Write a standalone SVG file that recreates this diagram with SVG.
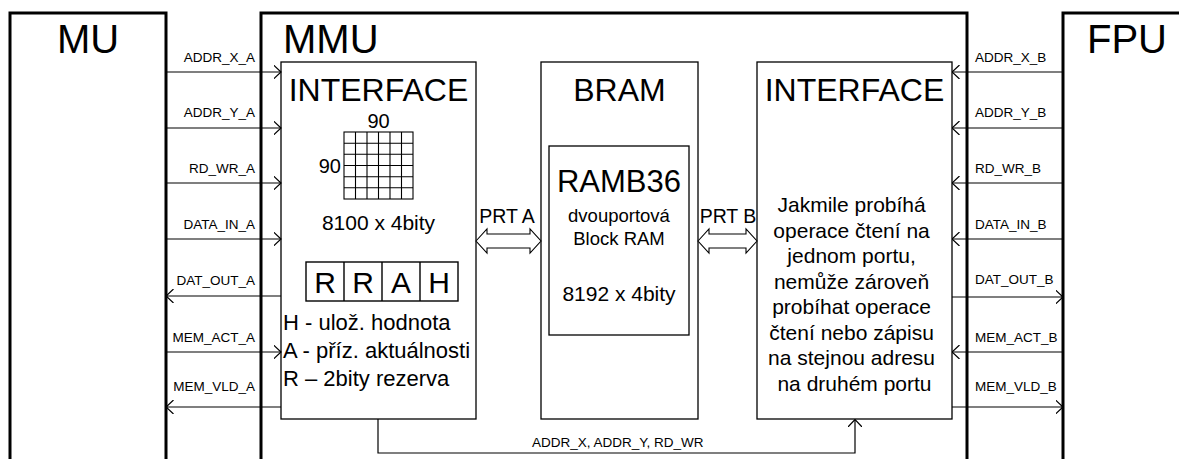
<svg xmlns="http://www.w3.org/2000/svg" width="1179" height="459" viewBox="0 0 1179 459">
<style>
text{font-family:"Liberation Sans",Arial,sans-serif;fill:#000}
.outer{fill:none;stroke:#000;stroke-width:3}
.box{fill:#fff;stroke:#000;stroke-width:1.3}
.sig{fill:none;stroke:#000;stroke-width:1.2}
.lbl{font-size:13.5px}
.big{font-size:40px}
.title{font-size:32px}
.t20{font-size:20px}
.t21{font-size:21px}
.t22{font-size:22px}
.dbl{fill:#fff;stroke:#000;stroke-width:1.1}
.grid{fill:none;stroke:#000;stroke-width:1.1}
</style>
<defs>
<marker id="arr" viewBox="0 0 8 14" refX="7.5" refY="7" markerWidth="8" markerHeight="14" markerUnits="userSpaceOnUse" orient="auto">
<path d="M0,0 L7.5,7 L0,14" fill="none" stroke="#000" stroke-width="1.2"/>
</marker>
</defs>

<g id="MU">
<path class="outer" d="M10,462 V13 H166 V462"/>
<text class="big" x="88" y="53" text-anchor="middle">MU</text>
</g>

<g id="MMU">
<path class="outer" d="M261,462 V13 H967 V462"/>
<text class="big" x="283" y="53">MMU</text>
</g>

<g id="FPU">
<path class="outer" d="M1063,462 V13 H1182"/>
<text class="big" x="1087" y="53">FPU</text>
</g>

<g id="interfaceA">
<rect class="box" x="281" y="62" width="195" height="357"/>
<text class="title" x="378.5" y="101" text-anchor="middle">INTERFACE</text>
<text class="t20" x="378.5" y="128" text-anchor="middle">90</text>
<text class="t20" x="341" y="173" text-anchor="end">90</text>
<g class="grid">
<rect x="344" y="132" width="69" height="67"/>
<path d="M355.5,132V199M367,132V199M378.5,132V199M390,132V199M401.5,132V199M344,143.2H413M344,154.3H413M344,165.5H413M344,176.7H413M344,187.8H413"/>
</g>
<text x="378.5" y="230" font-size="21" text-anchor="middle">8100 x 4bity</text>
<g class="grid">
<rect x="306" y="262" width="152" height="39" stroke-width="1.4"/>
<path d="M344,262V301M382,262V301M420,262V301" stroke-width="1.4"/>
</g>
<text x="325" y="293" font-size="30" text-anchor="middle">R</text>
<text x="363" y="293" font-size="30" text-anchor="middle">R</text>
<text x="401" y="293" font-size="30" text-anchor="middle">A</text>
<text x="439" y="293" font-size="30" text-anchor="middle">H</text>
<text class="t22" x="283" y="330">H - ulož. hodnota</text>
<text class="t22" x="283" y="358">A - příz. aktuálnosti</text>
<text class="t22" x="283" y="386">R – 2bity rezerva</text>
</g>

<g id="BRAM">
<rect class="box" x="541" y="62" width="157" height="357"/>
<text class="title" x="619.5" y="101" text-anchor="middle">BRAM</text>
</g>

<g id="RAMB36">
<rect class="box" x="549" y="146" width="140" height="189"/>
<text x="619" y="192" font-size="31" text-anchor="middle">RAMB36</text>
<text x="619" y="222" font-size="18.5" text-anchor="middle">dvouportová</text>
<text x="619" y="245" font-size="18.5" text-anchor="middle">Block RAM</text>
<text x="619" y="301" font-size="21" text-anchor="middle">8192 x 4bity</text>
</g>

<g id="interfaceB">
<rect class="box" x="757" y="62" width="195" height="357"/>
<text class="title" x="854.5" y="101" text-anchor="middle">INTERFACE</text>
<text class="t21" text-anchor="middle">
<tspan x="854.5" y="212">Jakmile probíhá</tspan>
<tspan x="854.5" y="237.5">operace čtení na</tspan>
<tspan x="854.5" y="263">jednom portu,</tspan>
<tspan x="854.5" y="288.5">nemůže zároveň</tspan>
<tspan x="854.5" y="314">probíhat operace</tspan>
<tspan x="854.5" y="339.5">čtení nebo zápisu</tspan>
<tspan x="854.5" y="365">na stejnou adresu</tspan>
<tspan x="854.5" y="390.5">na druhém portu</tspan>
</text>
</g>

<g id="connectors">
<g class="sig">
<line x1="166" y1="72" x2="281" y2="72" marker-end="url(#arr)"/>
<line x1="166" y1="128" x2="281" y2="128" marker-end="url(#arr)"/>
<line x1="166" y1="183" x2="281" y2="183" marker-end="url(#arr)"/>
<line x1="166" y1="239" x2="281" y2="239" marker-end="url(#arr)"/>
<line x1="281" y1="296" x2="166" y2="296" marker-end="url(#arr)"/>
<line x1="166" y1="352" x2="281" y2="352" marker-end="url(#arr)"/>
<line x1="281" y1="407" x2="166" y2="407" marker-end="url(#arr)"/>

<line x1="1063" y1="72" x2="952" y2="72" marker-end="url(#arr)"/>
<line x1="1063" y1="128" x2="952" y2="128" marker-end="url(#arr)"/>
<line x1="1063" y1="183" x2="952" y2="183" marker-end="url(#arr)"/>
<line x1="1063" y1="239" x2="952" y2="239" marker-end="url(#arr)"/>
<line x1="952" y1="297" x2="1063" y2="297" marker-end="url(#arr)"/>
<line x1="1063" y1="352" x2="952" y2="352" marker-end="url(#arr)"/>
<line x1="952" y1="407" x2="1063" y2="407" marker-end="url(#arr)"/>

<path d="M378,419 V453 H855 V419.5" marker-end="url(#arr)"/>
</g>
<polygon class="dbl" points="476,241 487,229 487,234 530,234 530,229 541,241 530,253 530,248 487,248 487,253"/>
<polygon class="dbl" points="698,241 709,229 709,234 746,234 746,229 757,241 746,253 746,248 709,248 709,253"/>
<text x="507" y="223" font-size="19.5" text-anchor="middle">PRT A</text>
<text x="728" y="223" font-size="19.5" text-anchor="middle">PRT B</text>

<g class="lbl" text-anchor="end">
<text x="255" y="62">ADDR_X_A</text>
<text x="255" y="117">ADDR_Y_A</text>
<text x="255" y="173">RD_WR_A</text>
<text x="255" y="229">DATA_IN_A</text>
<text x="255" y="285">DAT_OUT_A</text>
<text x="255" y="342">MEM_ACT_A</text>
<text x="255" y="391">MEM_VLD_A</text>
</g>
<g class="lbl">
<text x="975" y="62">ADDR_X_B</text>
<text x="975" y="117">ADDR_Y_B</text>
<text x="975" y="173">RD_WR_B</text>
<text x="975" y="229">DATA_IN_B</text>
<text x="975" y="284">DAT_OUT_B</text>
<text x="975" y="342">MEM_ACT_B</text>
<text x="975" y="391">MEM_VLD_B</text>
</g>
<text class="lbl" x="532" y="447">ADDR_X, ADDR_Y, RD_WR</text>
</g>
</svg>
